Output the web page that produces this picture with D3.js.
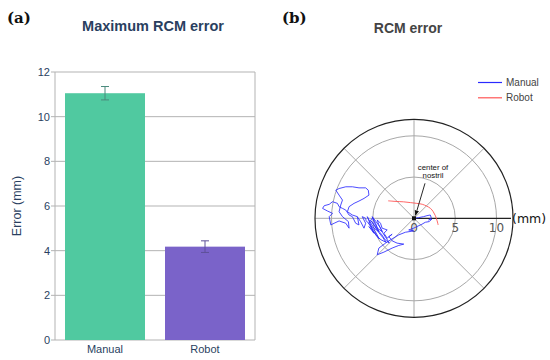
<!DOCTYPE html>
<html>
<head>
<meta charset="utf-8">
<script src="https://cdn.jsdelivr.net/npm/d3@7"></script>
<style>
  body { margin: 0; background: #fff; }
  svg { display: block; }
</style>
</head>
<body>
<svg id="chart" width="550" height="360"></svg>
<script>
// bar chart data
const categories = ["Manual", "Robot"];
const maxError = [11.05, 4.18];
const errorSd = [0.3, 0.26];
const yTicks = [0, 2, 4, 6, 8, 10, 12];
const barColors = ["#50c9a0", "#7a63c9"];
const errColors = ["#4a8a7c", "#5f5199"];

// polar trajectories, x / y in mm relative to center of nostril
const manualX = [0, 0.56, 1.16, 1.57, 1.97, 2.09, 1.77, 2.17, 1.85, 1.37, 0.96, 0.36, -0.04, -0.64, -0.04, -1.04,
  -1.85, -2.65, -3.45, -4.26, -4.46, -3.65, -2.65, -1.85, -1.24, -2.05, -2.65, -3.05, -2.65, -3.25, -3.65,
  -3.25, -3.86, -4.06, -4.46, -4.26, -3.86, -4.46, -4.86, -5.06, -4.66, -4.26, -4.86, -5.46, -5.66, -5.26,
  -4.86, -5.46,
  -5.0, -4.5, -4.0, -3.4, -3.8, -4.3, -4.8, -5.2, -4.9, -4.4, -3.9, -3.5, -3.0, -3.3, -3.7, -4.1, -4.6,
  -5.0, -5.5, -5.1, -4.6, -4.2, -4.7, -5.3, -5.8,
  -5.86, -6.27, -5.86, -6.06, -6.47, -6.87, -6.67, -7.07, -7.47, -7.87, -8.27, -8.67, -9.08,
  -9.28, -9.88, -10.28, -10.88, -11.08, -10.48, -9.88, -10.28, -10.08, -9.68, -9.08, -8.27, -7.87, -7.95,
  -8.67, -9.08, -8.88, -8.67, -9.08, -9.48, -9.08, -8.27, -7.47, -6.67, -5.86, -5.54, -5.46, -6.06, -6.67,
  -7.27, -7.87, -8.07, -7.47, -6.87];
const manualY = [0, 0.08, 0.2, 0.32, 0.4, 0.08, -0.2, -0.08, -0.4, -0.48, -0.72, -1.0, -1.2, -1.41, -1.53, -1.69,
  -2.01, -2.49, -3.01, -3.61, -4.42, -4.1, -3.61, -3.29, -3.13, -3.01, -2.73, -2.21, -1.93, -2.41, -1.81,
  -1.41, -1.2, -0.6, -0.2, -0.8, -1.61, -1.2, -0.4, 0.2, -0.6, -1.61, -1.2, -0.2, 0.2, -0.8,
  -1.81, -1.0,
  -1.5, -2.2, -2.6, -2.9, -2.3, -1.7, -0.9, -0.3, -0.7, -1.4, -2.0, -2.6, -3.0, -2.5, -1.9, -1.1, -0.4,
  0.1, -0.6, -1.3, -2.0, -2.5, -1.6, -0.8, -0.3,
  0.0, 0.2, -0.6, -1.2, -0.4, 0.2, -0.8, -0.6, 0.2, 0.4, 1.0, 1.2, 1.41,
  1.81, 2.01, 1.69, 1.53, 1.2, 0.88, 0.6, 0.2, -0.8, -0.6, -0.32, -0.6, -1.2, -0.4,
  0.2, 0.8, 1.61, 2.21, 2.81, 3.41, 3.61, 3.82, 3.82, 3.69, 3.69, 3.41, 2.81, 2.41, 2.09,
  1.81, 1.41, 0.8, 0.4, 0.2];
const robotX = [-3.13, -2.3, -1.29, -0.4, 0.33, 1.0, 1.53, 2.0, 2.33, 2.6, 2.8, 2.93];
const robotY = [2.12, 2.05, 2.0, 1.9, 1.81, 1.7, 1.48, 1.2, 0.8, 0.3, -0.3, -0.81];
const rTicks = [0, 5, 10];
const rMax = 12;

const svg = d3.select("#chart");
svg.append("rect").attr("width", 550).attr("height", 360).attr("fill", "#fff");

// ---------- (a) bar chart ----------
const navy = "#2a3f5f";
const x = d3.scaleBand().domain(categories).range([55, 255]).paddingInner(0.2).paddingOuter(0.1);
const y = d3.scaleLinear().domain([0, 12]).range([340, 72]);

const left = svg.append("g");

left.append("g")
  .selectAll("line")
  .data(yTicks)
  .join("line")
  .attr("x1", 51).attr("x2", 255)
  .attr("y1", d => y(d)).attr("y2", d => y(d))
  .attr("stroke", "#b3b3b3").attr("stroke-width", 1);

left.append("line").attr("x1", 55).attr("x2", 55).attr("y1", y(12)).attr("y2", y(0))
  .attr("stroke", "#b3b3b3");
left.append("line").attr("x1", 255).attr("x2", 255).attr("y1", y(12)).attr("y2", y(0))
  .attr("stroke", "#b3b3b3");

left.append("g")
  .selectAll("text")
  .data(yTicks)
  .join("text")
  .attr("x", 50).attr("y", d => y(d))
  .attr("dy", "0.35em")
  .attr("text-anchor", "end")
  .attr("font-family", "Liberation Sans, Arial, sans-serif")
  .attr("font-size", 11)
  .attr("fill", navy)
  .text(d => d);

left.append("g")
  .selectAll("rect")
  .data(categories)
  .join("rect")
  .attr("x", d => x(d))
  .attr("width", x.bandwidth())
  .attr("y", (d, i) => y(maxError[i]))
  .attr("height", (d, i) => y(0) - y(maxError[i]))
  .attr("fill", (d, i) => barColors[i]);

const errs = left.append("g")
  .selectAll("g")
  .data(categories)
  .join("g")
  .attr("stroke", (d, i) => errColors[i])
  .attr("stroke-width", 1);
errs.append("line")
  .attr("x1", d => x(d) + x.bandwidth() / 2).attr("x2", d => x(d) + x.bandwidth() / 2)
  .attr("y1", (d, i) => y(maxError[i] + errorSd[i])).attr("y2", (d, i) => y(maxError[i] - errorSd[i]));
errs.append("line")
  .attr("x1", d => x(d) + x.bandwidth() / 2 - 4).attr("x2", d => x(d) + x.bandwidth() / 2 + 4)
  .attr("y1", (d, i) => y(maxError[i] + errorSd[i])).attr("y2", (d, i) => y(maxError[i] + errorSd[i]));
errs.append("line")
  .attr("x1", d => x(d) + x.bandwidth() / 2 - 4).attr("x2", d => x(d) + x.bandwidth() / 2 + 4)
  .attr("y1", (d, i) => y(maxError[i] - errorSd[i])).attr("y2", (d, i) => y(maxError[i] - errorSd[i]));

left.append("g")
  .selectAll("text")
  .data(categories)
  .join("text")
  .attr("x", d => x(d) + x.bandwidth() / 2).attr("y", 353)
  .attr("text-anchor", "middle")
  .attr("font-family", "Liberation Sans, Arial, sans-serif")
  .attr("font-size", 11)
  .attr("fill", navy)
  .text(d => d);

left.append("text")
  .attr("transform", "translate(21,206) rotate(-90)")
  .attr("text-anchor", "middle")
  .attr("font-family", "Liberation Sans, Arial, sans-serif")
  .attr("font-size", 12.5)
  .attr("fill", navy)
  .text("Error (mm)");

left.append("text")
  .attr("x", 153).attr("y", 31)
  .attr("text-anchor", "middle")
  .attr("font-family", "Liberation Sans, Arial, sans-serif")
  .attr("font-weight", "bold")
  .attr("font-size", 14.5)
  .attr("fill", navy)
  .text("Maximum RCM error");

svg.append("text")
  .attr("x", 7).attr("y", 23)
  .attr("font-family", "DejaVu Serif, serif")
  .attr("font-weight", "bold")
  .attr("font-size", 15)
  .attr("fill", "#111")
  .text("(a)");
svg.append("text")
  .attr("x", 282).attr("y", 23)
  .attr("font-family", "DejaVu Serif, serif")
  .attr("font-weight", "bold")
  .attr("font-size", 15)
  .attr("fill", "#111")
  .text("(b)");

// ---------- (b) polar plot ----------
const cx = 414, cy = 218.3;
const r = d3.scaleLinear().domain([0, rMax]).range([0, 99]);
const polar = svg.append("g").attr("transform", `translate(${cx},${cy})`);

polar.append("g")
  .selectAll("circle")
  .data(rTicks.filter(d => d > 0))
  .join("circle")
  .attr("r", d => r(d))
  .attr("fill", "none")
  .attr("stroke", "#a8a8a8");

const spokes = d3.range(0, 360, 45).filter(a => a !== 0);
polar.append("g")
  .selectAll("line")
  .data(spokes)
  .join("line")
  .attr("x1", 0).attr("y1", 0)
  .attr("x2", a => r(rMax) * Math.cos(a * Math.PI / 180))
  .attr("y2", a => -r(rMax) * Math.sin(a * Math.PI / 180))
  .attr("stroke", "#a8a8a8");

polar.append("circle")
  .attr("r", r(rMax))
  .attr("fill", "none")
  .attr("stroke", "#222")
  .attr("stroke-width", 1.2);

polar.append("line")
  .attr("x1", 0).attr("y1", 0).attr("x2", 97).attr("y2", 0)
  .attr("stroke", "#222").attr("stroke-width", 1.2);

polar.append("g")
  .selectAll("text")
  .data(rTicks)
  .join("text")
  .attr("x", d => r(d)).attr("y", 14)
  .attr("text-anchor", "middle")
  .attr("font-family", "DejaVu Sans, sans-serif")
  .attr("font-size", 12)
  .attr("fill", "#555")
  .text(d => d);

polar.append("text")
  .attr("x", 98).attr("y", 5)
  .attr("font-family", "DejaVu Sans, sans-serif")
  .attr("font-size", 12.5)
  .attr("fill", "#111")
  .text("(mm)");

const traj = d3.line().x(d => r(d[0])).y(d => -r(d[1]));
polar.append("path")
  .datum(d3.zip(manualX, manualY))
  .attr("d", traj)
  .attr("fill", "none")
  .attr("stroke", "#2a2aff")
  .attr("stroke-width", 0.85);
polar.append("path")
  .datum(d3.zip(robotX, robotY))
  .attr("d", traj.curve(d3.curveCatmullRom))
  .attr("fill", "none")
  .attr("stroke", "#ff5555")
  .attr("stroke-width", 0.9);

// annotation
svg.append("defs").append("marker")
  .attr("id", "arr")
  .attr("viewBox", "0 0 10 10")
  .attr("refX", 9).attr("refY", 5)
  .attr("markerWidth", 6).attr("markerHeight", 6)
  .attr("orient", "auto")
  .append("path").attr("d", "M0,1 L10,5 L0,9 Z").attr("fill", "#111");
polar.append("line")
  .attr("x1", 11).attr("y1", -35).attr("x2", 1.5).attr("y2", -3)
  .attr("stroke", "#111").attr("stroke-width", 0.9)
  .attr("marker-end", "url(#arr)");
polar.append("rect")
  .attr("x", -2).attr("y", -2).attr("width", 4).attr("height", 4)
  .attr("fill", "#111");
polar.append("text")
  .attr("x", 19).attr("y", -48.5)
  .attr("text-anchor", "middle")
  .attr("font-family", "Liberation Sans, Arial, sans-serif")
  .attr("font-size", 7.8)
  .attr("fill", "#111")
  .text("center of");
polar.append("text")
  .attr("x", 19).attr("y", -40)
  .attr("text-anchor", "middle")
  .attr("font-family", "Liberation Sans, Arial, sans-serif")
  .attr("font-size", 7.8)
  .attr("fill", "#111")
  .text("nostril");

svg.append("text")
  .attr("x", 408).attr("y", 33)
  .attr("text-anchor", "middle")
  .attr("font-family", "Liberation Sans, Arial, sans-serif")
  .attr("font-weight", "bold")
  .attr("font-size", 14)
  .attr("fill", "#444")
  .text("RCM error");

// legend
const legendNames = ["Manual", "Robot"];
const legendColors = ["#2a2aff", "#ff5555"];
const legend = svg.append("g")
  .selectAll("g")
  .data(legendNames)
  .join("g")
  .attr("transform", (d, i) => `translate(478,${82.5 + i * 15.3})`);
legend.append("line")
  .attr("x1", 0).attr("x2", 24)
  .attr("stroke", (d, i) => legendColors[i]).attr("stroke-width", 1.2);
legend.append("text")
  .attr("x", 28).attr("dy", "0.35em")
  .attr("font-family", "Liberation Sans, Arial, sans-serif")
  .attr("font-size", 10)
  .attr("fill", "#444")
  .text(d => d);
</script>
</body>
</html>
